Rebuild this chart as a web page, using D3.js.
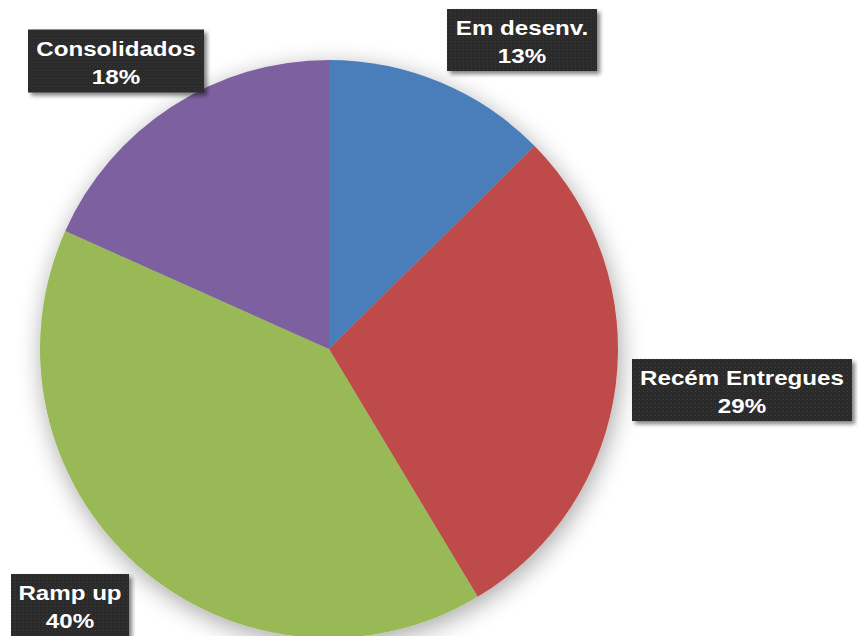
<!DOCTYPE html>
<html>
<head>
<meta charset="utf-8">
<script src="https://cdn.jsdelivr.net/npm/d3@7"></script>
<style>
  body { margin: 0; background: #fff; }
  svg { display: block; }
</style>
</head>
<body>
<script>
// Data (percent of total)
const categories = ["Em desenv.", "Recém Entregues", "Ramp up", "Consolidados"];
const values = [12.6, 28.8, 40.3, 18.3];
const labels = ["13%", "29%", "40%", "18%"];
const colors = ["#4a7ebb", "#be4b48", "#98b954", "#7d60a0"];

// Where the data label boxes sit (centre of box)
const labelBoxes = [
  { cx: 522, cy: 40, w: 150, h: 62 },
  { cx: 742, cy: 390, w: 220, h: 62 },
  { cx: 70, cy: 605, w: 118, h: 62 },
  { cx: 116, cy: 61, w: 176, h: 63 }
];

const width = 858;
const height = 636;
const cx = 329, cy = 349, radius = 289;

const svg = d3.select("body").append("svg")
    .attr("width", width)
    .attr("height", height)
    .attr("viewBox", [0, 0, width, height]);

const defs = svg.append("defs");

// soft halo under the pie
const halo = defs.append("filter").attr("id", "halo")
    .attr("x", "-20%").attr("y", "-20%").attr("width", "140%").attr("height", "140%");
halo.append("feGaussianBlur").attr("in", "SourceAlpha").attr("stdDeviation", 12).attr("result", "b");
halo.append("feOffset").attr("in", "b").attr("dx", 2).attr("dy", 6).attr("result", "o");
halo.append("feComponentTransfer").attr("in", "o").attr("result", "s")
  .append("feFuncA").attr("type", "linear").attr("slope", 0.35);
const hm = halo.append("feMerge");
hm.append("feMergeNode").attr("in", "s");
hm.append("feMergeNode").attr("in", "SourceGraphic");

// box shadow
const bs = defs.append("filter").attr("id", "boxShadow")
    .attr("x", "-20%").attr("y", "-20%").attr("width", "140%").attr("height", "150%");
bs.append("feGaussianBlur").attr("in", "SourceAlpha").attr("stdDeviation", 2).attr("result", "b");
bs.append("feOffset").attr("in", "b").attr("dx", 3).attr("dy", 3).attr("result", "o");
bs.append("feComponentTransfer").attr("in", "o").attr("result", "s")
  .append("feFuncA").attr("type", "linear").attr("slope", 0.5);
const bm = bs.append("feMerge");
bm.append("feMergeNode").attr("in", "s");
bm.append("feMergeNode").attr("in", "SourceGraphic");

// dotted dark fill of the label boxes
const pat = defs.append("pattern").attr("id", "dots")
    .attr("width", 4).attr("height", 4).attr("patternUnits", "userSpaceOnUse");
pat.append("rect").attr("width", 4).attr("height", 4).attr("fill", "#2b2b2b");
pat.append("rect").attr("x", 1).attr("y", 1).attr("width", 1).attr("height", 1).attr("fill", "#424242");
pat.append("rect").attr("x", 3).attr("y", 3).attr("width", 1).attr("height", 1).attr("fill", "#363636");

const pie = d3.pie().sort(null).value(d => d);
const arc = d3.arc().innerRadius(0).outerRadius(radius);
const arcs = pie(values);

svg.append("g")
    .attr("transform", `translate(${cx},${cy})`)
    .attr("filter", "url(#halo)")
  .selectAll("path")
  .data(arcs)
  .join("path")
    .attr("d", arc)
    .attr("fill", (d, i) => colors[i]);

// data labels
const lab = svg.append("g")
  .selectAll("g")
  .data(arcs)
  .join("g")
    .attr("transform", (d, i) => `translate(${labelBoxes[i].cx},${labelBoxes[i].cy})`);

lab.append("rect")
    .attr("x", (d, i) => -labelBoxes[i].w / 2)
    .attr("y", (d, i) => -labelBoxes[i].h / 2)
    .attr("width", (d, i) => labelBoxes[i].w)
    .attr("height", (d, i) => labelBoxes[i].h)
    .attr("fill", "url(#dots)")
    .attr("filter", "url(#boxShadow)");

const txt = lab.append("text")
    .attr("text-anchor", "middle")
    .attr("fill", "#fff")
    .attr("font-family", "Liberation Sans, Arial, sans-serif")
    .attr("font-weight", "bold")
    .attr("font-size", 21)
    .attr("transform", "scale(1.15,1)");

txt.append("tspan")
    .attr("x", 0).attr("y", -5)
    .text((d, i) => categories[i]);
txt.append("tspan")
    .attr("x", 0).attr("y", 23)
    .text((d, i) => labels[i]);
</script>
</body>
</html>
